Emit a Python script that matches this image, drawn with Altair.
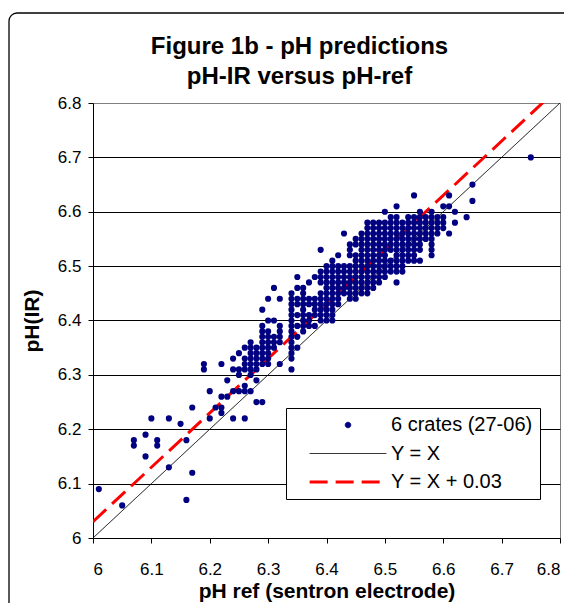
import altair as alt
import pandas as pd

# ---------------- data ----------------
S_PTS = "6 crates (27-06)"
S_ID = "Y = X"
S_OFF = "Y = X + 0.03"
series_names = [S_PTS, S_ID, S_OFF]
series_colors = ["#000080", "#000000", "#FF0000"]
line_offset = 0.03
axis_ends = [6.0, 6.8]
tick_vals = [6.0, 6.1, 6.2, 6.3, 6.4, 6.5, 6.6, 6.7, 6.8]

# pH(IR) levels, and for each level the pH-ref values of the dots on it
ir_levels = [6.70, 6.65, 6.63, 6.62, 6.61, 6.60, 6.59, 6.58, 6.57, 6.56,
             6.55, 6.54, 6.53, 6.52, 6.51, 6.50, 6.49, 6.48, 6.47, 6.46,
             6.45, 6.44, 6.43, 6.42, 6.41, 6.40, 6.39, 6.38, 6.37, 6.36,
             6.35, 6.34, 6.33, 6.32, 6.31, 6.30, 6.29, 6.28, 6.27, 6.26,
             6.25, 6.24, 6.23, 6.22, 6.21, 6.19, 6.18, 6.17, 6.15, 6.13,
             6.12, 6.09, 6.07, 6.06]
ref_by_level = [
    [6.75],
    [6.65],
    [6.55, 6.61],
    [6.65],
    [6.52, 6.60, 6.61],
    [6.50, 6.56, 6.58, 6.62],
    [6.51, 6.52, 6.54, 6.55, 6.56, 6.57, 6.58, 6.59, 6.60, 6.64],
    [6.47, 6.48, 6.49, 6.50, 6.51, 6.52, 6.53, 6.54, 6.55, 6.56, 6.57, 6.58, 6.59, 6.60, 6.62],
    [6.47, 6.48, 6.49, 6.50, 6.51, 6.52, 6.53, 6.54, 6.55, 6.56, 6.57, 6.58, 6.59, 6.60],
    [6.43, 6.46, 6.47, 6.48, 6.49, 6.50, 6.51, 6.52, 6.53, 6.54, 6.55, 6.56, 6.57, 6.58, 6.59, 6.61],
    [6.45, 6.46, 6.47, 6.48, 6.49, 6.50, 6.51, 6.52, 6.53, 6.54, 6.55, 6.56, 6.57, 6.58],
    [6.44, 6.45, 6.46, 6.47, 6.48, 6.49, 6.50, 6.51, 6.52, 6.53, 6.54, 6.55, 6.56, 6.58],
    [6.39, 6.44, 6.46, 6.47, 6.48, 6.49, 6.50, 6.51, 6.52, 6.53, 6.54, 6.55, 6.56, 6.58],
    [6.42, 6.44, 6.45, 6.46, 6.47, 6.48, 6.49, 6.50, 6.52, 6.53, 6.54, 6.55, 6.58],
    [6.41, 6.45, 6.46, 6.47, 6.48, 6.49, 6.50, 6.51, 6.52, 6.53, 6.54, 6.55, 6.56],
    [6.40, 6.41, 6.42, 6.43, 6.44, 6.45, 6.46, 6.47, 6.48, 6.49, 6.50, 6.51, 6.52, 6.53],
    [6.39, 6.40, 6.41, 6.42, 6.43, 6.44, 6.45, 6.46, 6.47, 6.48, 6.49, 6.50, 6.51, 6.52, 6.53],
    [6.35, 6.38, 6.39, 6.40, 6.41, 6.42, 6.43, 6.44, 6.45, 6.46, 6.47, 6.48, 6.49, 6.50],
    [6.37, 6.39, 6.40, 6.41, 6.42, 6.43, 6.44, 6.45, 6.46, 6.47, 6.48, 6.49, 6.52],
    [6.31, 6.35, 6.36, 6.40, 6.41, 6.42, 6.43, 6.44, 6.45, 6.46, 6.47, 6.48],
    [6.34, 6.36, 6.39, 6.40, 6.41, 6.42, 6.43, 6.44, 6.45, 6.46, 6.47],
    [6.30, 6.32, 6.34, 6.35, 6.36, 6.37, 6.38, 6.39, 6.40, 6.41, 6.42, 6.44, 6.45],
    [6.34, 6.35, 6.36, 6.37, 6.38, 6.39, 6.40, 6.41, 6.42],
    [6.29, 6.34, 6.36, 6.38, 6.39, 6.40, 6.41],
    [6.34, 6.35, 6.36, 6.37, 6.38, 6.39, 6.40, 6.41],
    [6.30, 6.31, 6.34, 6.36, 6.37, 6.39, 6.40, 6.41],
    [6.29, 6.32, 6.34, 6.35, 6.36, 6.37, 6.38],
    [6.29, 6.30, 6.32, 6.34, 6.36],
    [6.29, 6.30, 6.31, 6.32, 6.34, 6.35],
    [6.27, 6.29, 6.30, 6.31, 6.32, 6.34],
    [6.26, 6.27, 6.28, 6.29, 6.30, 6.31, 6.34, 6.35],
    [6.25, 6.27, 6.28, 6.29, 6.30, 6.34],
    [6.24, 6.26, 6.27, 6.28, 6.29, 6.30, 6.34],
    [6.19, 6.22, 6.26, 6.27, 6.28, 6.29, 6.30, 6.32],
    [6.19, 6.24, 6.25, 6.26, 6.27, 6.28, 6.34],
    [6.25, 6.27],
    [6.23, 6.28],
    [6.26],
    [6.20, 6.24, 6.25, 6.26, 6.27],
    [6.22, 6.23],
    [6.28, 6.29],
    [6.17, 6.21, 6.22],
    [6.22],
    [6.10, 6.13, 6.20, 6.24, 6.26],
    [6.15],
    [6.09],
    [6.07, 6.11, 6.16],
    [6.07, 6.11],
    [6.09],
    [6.13],
    [6.17],
    [6.01],
    [6.16],
    [6.05],
]

ref_vals, ir_vals = [], []
for lvl, refs in zip(ir_levels, ref_by_level):
    for r in refs:
        ref_vals.append(r)
        ir_vals.append(lvl)
pts = pd.DataFrame({"ref": ref_vals, "ir": ir_vals, "series": S_PTS})

lines = pd.DataFrame({
    "ref": axis_ends + axis_ends,
    "ir": axis_ends + [v + line_offset for v in axis_ends],
    "series": [S_ID, S_ID, S_OFF, S_OFF],
})

# ---------------- chart ----------------
FONT = "Liberation Sans"
dom = alt.Scale(domain=[6, 6.8], nice=False, zero=False)

x_enc = alt.X("ref:Q", scale=dom, axis=alt.Axis(
    title="pH ref (sentron electrode)", values=tick_vals, format=".1~f",
    grid=False, labelPadding=18, titlePadding=3))
y_enc = alt.Y("ir:Q", scale=dom, axis=alt.Axis(
    title="pH(IR)", values=tick_vals, format=".1~f", labelPadding=7,
    titlePadding=15, grid=True,
    gridColor={"condition": {"test": "datum.value > 6.79", "value": "#808080"},
               "value": "#000000"}))

legend = alt.Legend(
    title=None, orient="none", legendX=193, legendY=305, padding=7,
    strokeColor="black", fillColor="white", labelFont=FONT, labelFontSize=20,
    labelColor="black", symbolSize=30, symbolOffset=45, labelOffset=33,
    rowPadding=8.5, symbolFillColor="#000080",
    labelExpr="datum.label + '\u00a0\u00a0'")

color = alt.Color("series:N", scale=alt.Scale(domain=series_names, range=series_colors), legend=legend)
dash = alt.StrokeDash("series:N", scale=alt.Scale(domain=series_names, range=[[1, 0], [1, 0], [18, 8]]), legend=legend)
swidth = alt.StrokeWidth("series:N", scale=alt.Scale(type="ordinal", domain=series_names, range=[1, 1, 3]), legend=legend)
shape = alt.Shape("series:N", scale=alt.Scale(domain=series_names, range=["circle", "M-14,0H14", "M-14,0H14"]), legend=legend)

line_layer = alt.Chart(lines).mark_line(clip=True).encode(
    x=x_enc, y=y_enc, color=color, strokeDash=dash, strokeWidth=swidth)

pt_layer = alt.Chart(pts).mark_point(filled=True, size=38, opacity=1).encode(
    x="ref:Q", y="ir:Q", color=color, shape=shape)

# outer chart frame: left and top sides with a rounded top-left corner
one = pd.DataFrame({"k": [0]})
frame_left = alt.Chart(one).mark_rule(color="black", strokeWidth=1.3).encode(
    x=alt.value(-84), y=alt.value(-82), y2=alt.value(700))
frame_top = alt.Chart(one).mark_rule(color="black", strokeWidth=1.3).encode(
    x=alt.value(-76), x2=alt.value(700), y=alt.value(-90))
frame_corner = alt.Chart(one).mark_arc(
    innerRadius=7.35, outerRadius=8.65, theta=4.7124, theta2=6.2832,
    fill="black").encode(x=alt.value(-76), y=alt.value(-82))

chart = alt.layer(frame_left, frame_top, frame_corner, line_layer, pt_layer).properties(
    width=467, height=435,
    title=alt.Title(["Figure 1b - pH predictions", "pH-IR versus pH-ref"],
                    font=FONT, fontSize=24, fontWeight="bold", color="black",
                    anchor="middle", frame="group", dx=-27, offset=-77,
                    lineHeight=30),
    autosize=alt.AutoSizeParams(type="none"),
    padding={"left": 85, "top": 95, "right": 4, "bottom": 67},
).configure_view(stroke="#808080", strokeWidth=1).configure_axis(
    labelFont=FONT, labelFontSize=17, labelColor="black",
    titleFont=FONT, titleFontSize=21, titleFontWeight="bold", titleColor="black",
    domainColor="black", tickColor="black", tickSize=5, gridWidth=1,
)

chart.save("out.html", embed_options={"renderer": "svg", "actions": False})
